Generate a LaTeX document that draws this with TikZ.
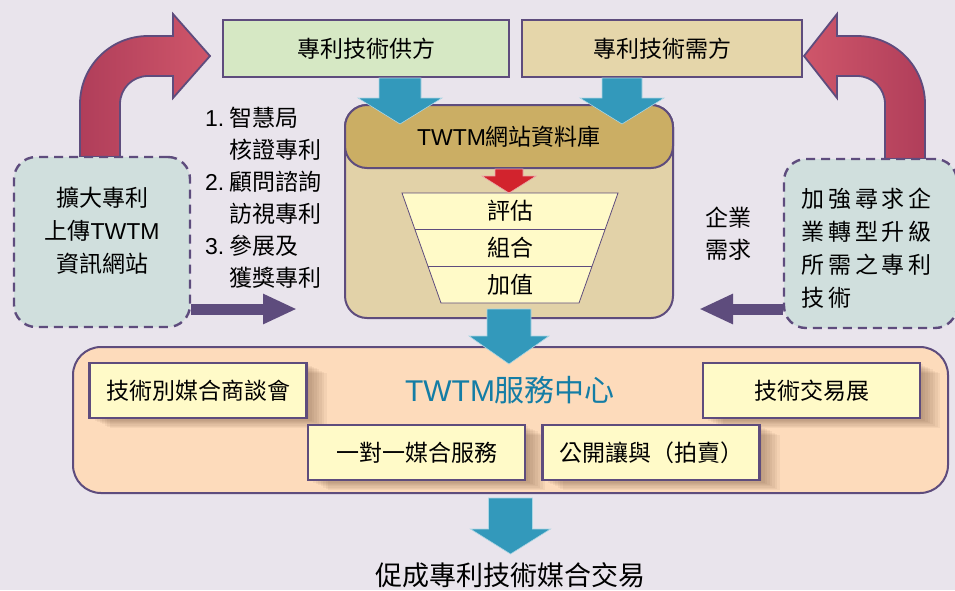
\documentclass[tikz,border=0pt]{standalone}
\usepackage{fontspec}
\setmainfont{Noto Sans CJK TC}
\newfontfamily\lat{Liberation Sans}
\newfontfamily\spaced[LetterSpace=17]{Noto Sans CJK TC}
\usetikzlibrary{calc,positioning,shadows,arrows.meta}
\definecolor{bgcol}{RGB}{233,228,236}
\definecolor{edge}{RGB}{94,76,125}
\definecolor{supplycol}{RGB}{214,232,196}
\definecolor{demandcol}{RGB}{229,214,170}
\definecolor{headcol}{RGB}{203,174,100}
\definecolor{bodycol}{RGB}{226,210,168}
\definecolor{funnelcol}{RGB}{255,250,200}
\definecolor{flowblue}{RGB}{51,153,187}
\definecolor{flowred}{RGB}{210,35,45}
\definecolor{centercol}{RGB}{253,219,187}
\definecolor{titleblue}{RGB}{20,125,165}
\definecolor{sidecol}{RGB}{208,223,221}
\definecolor{curvedark}{RGB}{176,62,90}
\definecolor{curvelight}{RGB}{207,86,106}
\definecolor{shadowcol}{RGB}{90,60,40}
\newcommand\mainsize{\fontsize{23}{33}\selectfont}
\newcommand\listsize{\fontsize{23}{32}\selectfont}
\newcommand\titlesize{\fontsize{30}{36}\selectfont}
\newcommand\dealsize{\fontsize{27}{34}\selectfont}
\newcommand\itemno[1]{\makebox[24pt][l]{\lat #1}}
\newcommand\blockdown[6]{%
    \path[fill=#1,draw=white!60!#1,line width=0.6pt] let \p1=#2, \p2=#3 in
        (\x1-#4,\y1) -- (\x1-#4,\y2+#6) -- (\x1-#5,\y2+#6) -- (\x1,\y2)
        -- (\x1+#5,\y2+#6) -- (\x1+#4,\y2+#6) -- (\x1+#4,\y1) -- cycle;}
\begin{document}
\begin{tikzpicture}[x=1pt,y=-1pt,
        topbox/.style={draw=edge,line width=2pt,minimum height=57pt,font=\mainsize},
        sidebox/.style={draw=edge,line width=2.4pt,dash pattern=on 9pt off 6pt,fill=sidecol,rounded corners=22pt},
        layer/.style={general shadow={fill=shadowcol,draw=none,opacity=.06,shadow xshift=#1*2.5pt,shadow yshift=-#1*1.25pt}},
        softshadow/.style={layer=1,layer=2,layer=3,layer=4,layer=5,layer=6,layer=7,layer=8},
        servbox/.style={draw=edge,line width=2.4pt,fill=funnelcol,minimum width=217pt,minimum height=55pt,font=\mainsize,softshadow},
        flowarrow/.style={draw=edge,line width=11pt,-{Triangle[length=34pt,width=28pt]}},
        curvearrow/.style={draw=edge,line width=1.8pt},
        txt/.style={font=\mainsize,align=center,inner sep=0pt}]
    \fill[bgcol] (0,0) rectangle (955,590);
    \useasboundingbox (0,0) rectangle (955,590);

    \draw[curvearrow,left color=curvedark,right color=curvelight]
        (80,157) -- (80,104) .. controls (80,66.4) and (110.4,36) .. (148,36) -- (173,36) -- (173,14) -- (210,56)
        -- (173,98) -- (173,76) -- (148,76) .. controls (132.5,76) and (120,88.5) .. (120,104) -- (120,157) -- cycle;
    \draw[curvearrow,left color=curvelight,right color=curvedark]
        (925,159) -- (925,104) .. controls (925,66.4) and (894.6,36) .. (857,36) -- (837,36) -- (837,14) -- (804,56)
        -- (837,98) -- (837,76) -- (857,76) .. controls (872.5,76) and (885,88.5) .. (885,104) -- (885,159) -- cycle;

    \coordinate (upin) at (297,309);
    \coordinate (seekin) at (699,309);
    \node[sidebox,minimum width=176pt,minimum height=170pt] (upload) at (102,242) {};
    \node[sidebox,minimum width=173pt,minimum height=169pt] (seek) at (870.5,243.5) {};
    \draw[flowarrow] (upload.east |- upin) -- (upin);
    \draw[flowarrow] (seek.west |- seekin) -- (seekin);
    \node[txt] (uploadtxt) at (102,231) {擴大專利\\上傳{\lat TWTM}\\資訊網站};
    \node[txt,font={\spaced\mainsize},align=left,anchor=west] (seektxt) at (801,248) {加強尋求企\\業轉型升級\\所需之專利\\技術};
    \node[txt,font=\listsize,align=left,anchor=west] (steps) at (205,198)
        {\itemno{1.}智慧局\\\itemno{}核證專利\\\itemno{2.}顧問諮詢\\\itemno{}訪視專利\\\itemno{3.}參展及\\\itemno{}獲獎專利};
    \node[txt,font=\listsize] (need) at (728,234) {企業\\需求};

    \node[topbox,fill=supplycol,minimum width=286pt] (supply) at (366,48.5) {專利技術供方};
    \node[topbox,fill=demandcol,minimum width=280pt] (demand) at (662,48.5) {專利技術需方};

    \node[draw=edge,line width=2pt,fill=bodycol,rounded corners=22pt,minimum width=328pt,minimum height=213pt] (db) at (509,211.5) {};
    \node[draw=edge,line width=2pt,fill=headcol,rounded corners=22pt,minimum width=328pt,minimum height=63pt,
        anchor=north,font=\mainsize] (dbtitle) at (db.north) {{\lat TWTM}網站資料庫};
    \draw[edge,line width=0.8pt,fill=funnelcol] (402,193) -- (618,193) -- (579,303) -- (441,303) -- cycle;
    \draw[edge,line width=0.8pt] (414.8,229) -- (605.2,229) (427.9,266) -- (592.1,266);
    \node[txt] (assess) at (510,211) {評估};
    \node[txt] (combine) at (510,248) {組合};
    \node[txt] (addval) at (510,285) {加值};
    \blockdown{flowred}{(dbtitle.south)}{([yshift=-24pt]dbtitle.south)}{14pt}{27pt}{17pt}

    \node[draw=edge,line width=2pt,fill=centercol,rounded corners=28pt,minimum width=875pt,minimum height=146pt] (service) at (510.5,420) {};
    \node[servbox] (fair) at (198,390.5) {技術別媒合商談會};
    \node[servbox] (expo) at (811.5,390.5) {技術交易展};
    \node[servbox] (onetoone) at (416.5,452.5) {一對一媒合服務};
    \node[servbox] (auction) at (651,452.5) {公開讓與（拍賣）};
    \node[font=\titlesize,text=titleblue,inner sep=0pt] (servtitle) at (510,390) {{\lat TWTM}服務中心};

    \blockdown{flowblue}{([xshift=34pt]supply.south)}{([xshift=34pt,yshift=-46pt]supply.south)}{21pt}{42pt}{26pt}
    \blockdown{flowblue}{([xshift=-40pt]demand.south)}{([xshift=-40pt,yshift=-46pt]demand.south)}{20pt}{42pt}{26pt}
    \blockdown{flowblue}{([yshift=10pt]db.south)}{([yshift=-45pt]db.south)}{22pt}{40pt}{28pt}
    \blockdown{flowblue}{([yshift=-4pt]service.south)}{([yshift=-60pt]service.south)}{22pt}{40pt}{25pt}
    \node[font=\dealsize,inner sep=0pt] (deal) at (510,575) {促成專利技術媒合交易};
\end{tikzpicture}
\end{document}
